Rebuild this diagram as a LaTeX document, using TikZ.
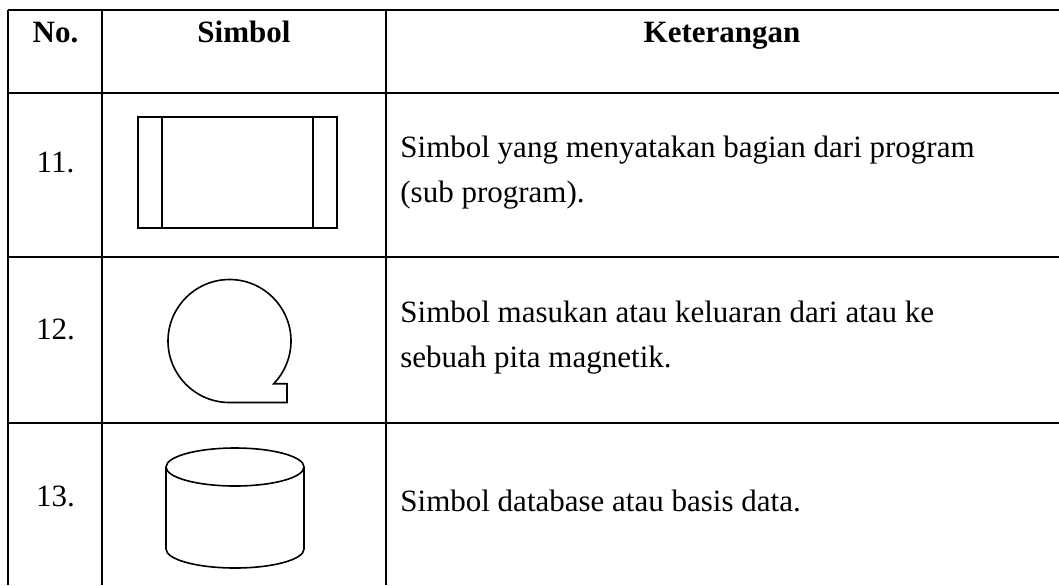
\documentclass[tikz,border=0pt]{standalone}
\usepackage{fontspec}
\setmainfont{Liberation Serif}
\usepackage{tikz}
\usetikzlibrary{positioning}
\tikzset{rule/.style = {line width=1pt}}
\tikzset{sym/.style = {line width=0.8pt}}
\tikzset{cell/.style = {inner sep=0pt, font=\fontsize{15.5}{22.5}\selectfont}}
\tikzset{head/.style = {inner sep=0pt, font=\fontsize{15.5}{22.5}\selectfont\bfseries}}

\begin{document}
\begin{tikzpicture}[x=0.5pt, y=-0.5pt]
    \useasboundingbox (0, 0) rectangle (1059, 585);

    % table rules
    \draw [rule] (8, 9.5) -- (1059, 9.5);
    \draw [rule] (8, 93) -- (1059, 93);
    \draw [rule] (8, 257) -- (1059, 257);
    \draw [rule] (8, 423) -- (1059, 423);
    \draw [rule] (8, 9.5) -- (8, 585);
    \draw [rule] (102, 9.5) -- (102, 585);
    \draw [rule] (386, 9.5) -- (386, 585);

    % header
    \node [head, anchor=base] (hno) at (55.5, 42) {No.};
    \node [head, anchor=base] (hsimbol) at (244, 42) {Simbol};
    \node [head, anchor=base] (hket) at (722, 42) {Keterangan};

    % row 11
    \node [cell, anchor=base] (no11) at (55.5, 172) {11.};
    \draw [sym] (138, 117) rectangle (337, 228);
    \draw [sym] (162, 117) -- (162, 228);
    \draw [sym] (313, 117) -- (313, 228);
    \node [cell, anchor=base west, align=left] (ket11) at (400, 202)
        {Simbol yang menyatakan bagian dari program\\(sub program).};

    % row 12
    \node [cell, anchor=base] (no12) at (55.5, 339) {12.};
    \draw [sym] (229.5, 402.5) arc [start angle=270, end angle=-44, radius=30.75pt]
        -- (287, 383.7) -- (287, 402.5) -- cycle;
    \node [cell, anchor=base west, align=left] (ket12) at (400, 367)
        {Simbol masukan atau keluaran dari atau ke\\sebuah pita magnetik.};

    % row 13
    \node [cell, anchor=base] (no13) at (55.5, 506) {13.};
    \draw [sym] (235, 467) ellipse [x radius=34.5pt, y radius=9.5pt];
    \draw [sym] (166, 467) -- (166, 549)
        arc [start angle=180, end angle=360, x radius=34.5pt, y radius=9.5pt] -- (304, 467);
    \node [cell, anchor=base west] (ket13) at (400, 511) {Simbol database atau basis data.};
\end{tikzpicture}
\end{document}
